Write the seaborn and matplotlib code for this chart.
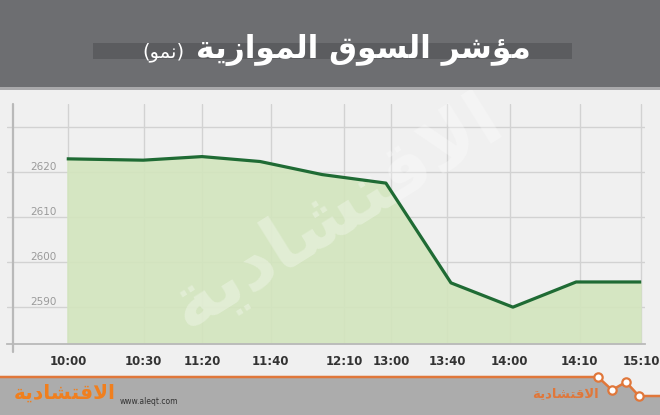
import matplotlib
matplotlib.use("Agg")
import matplotlib.pyplot as plt
import matplotlib.patches as mpatches
import matplotlib.transforms as mtransforms
import seaborn as sns
import pandas as pd

# ---- data ----
times = ["10:00", "10:30", "11:20", "11:40", "12:10", "13:00", "13:40", "14:00", "14:10", "15:10"]
# horizontal place of each time along the axis (percent of axis width)
tick_place = [8.7, 20.7, 29.9, 40.8, 52.4, 59.8, 68.7, 78.6, 89.7, 99.4]
point_place = [8.5, 20.6, 29.9, 39.1, 48.9, 59.0, 69.3, 79.1, 89.1, 99.4]
index_values = [2623.0, 2622.7, 2623.5, 2622.4, 2619.5, 2617.6, 2595.4, 2590.0, 2595.6, 2595.6]
y_ticks = [2590, 2600, 2610, 2620, 2630]
y_labels = ["2590", "2600", "2610", "2620", ""]

# ---- Arabic text (pre-shaped presentation forms, visual order) ----
def vis(s):
    return s[::-1]
w_moasher = vis("\uFEE3\uFE86\uFEB7\uFEAE")                 # مؤشر
w_souq = vis("\uFE8D\uFEDF\uFEB4\uFEEE\uFED5")              # السوق
w_mowazia = vis("\uFE8D\uFEDF\uFEE4\uFEEE\uFE8D\uFEAF\uFEF3\uFE94")  # الموازية
w_nomu = vis("\uFEE7\uFEE4\uFEEE")                          # نمو
w_eqt = vis("\uFE8D\uFEFB\uFED7\uFE98\uFEB8\uFE8E\uFEA9\uFEF3\uFE94")  # الاقتصادية
title_main = w_mowazia + " " + w_souq + " " + w_moasher
title_sub = "(" + w_nomu + ")"

df = pd.DataFrame({"x": point_place, "value": index_values})

sns.set_theme(style="white")
plt.rcParams["font.family"] = ["DejaVu Sans"]

W, H = 660, 415
fig = plt.figure(figsize=(W / 100, H / 100), dpi=100)
fig.patch.set_facecolor("#f0f0f0")

def fx(px):
    return px / W

def fy(py):
    return 1 - py / H

# header
fig.patches.append(mpatches.Rectangle((0, fy(90)), 1, fy(0) - fy(90), transform=fig.transFigure,
                                      facecolor="#a9a9ab", edgecolor="none", zorder=0))
fig.patches.append(mpatches.Rectangle((0, fy(87)), 1, fy(0) - fy(87), transform=fig.transFigure,
                                      facecolor="#6d6e71", edgecolor="none", zorder=0))
fig.patches.append(mpatches.Rectangle((fx(93), fy(59)), fx(572 - 93), fy(43) - fy(59),
                                      transform=fig.transFigure, facecolor="#5b5c5f",
                                      edgecolor="none", zorder=1))
fig.text(fx(531), fy(50), title_main, ha="right", va="center", color="white",
         fontsize=22.5, fontweight="bold", zorder=3)
fig.text(fx(184), fy(52), title_sub, ha="right", va="center", color="white",
         fontsize=14, zorder=3)

# footer
foot_x = [0, 598, 612, 626, 639, 660, 660, 0]
foot_y = [378, 378, 390, 382, 396, 396, 415, 415]
fig.patches.append(mpatches.Polygon([(fx(a), fy(b)) for a, b in zip(foot_x, foot_y)],
                                    closed=True, transform=fig.transFigure,
                                    facecolor="#acacac", edgecolor="none", zorder=0))
line_x = [0, 598, 612, 626, 639, 660]
line_y = [377, 377, 390, 382, 396, 396]
fig.add_artist(plt.Line2D([fx(a) for a in line_x], [fy(b) for b in line_y],
                          transform=fig.transFigure, color="#e0773a", lw=1.8, zorder=2))
for a, b in zip(line_x[1:5], line_y[1:5]):
    fig.add_artist(plt.Line2D([fx(a)], [fy(b)], transform=fig.transFigure, marker="o",
                              markersize=6, markerfacecolor="white", markeredgecolor="#e0773a",
                              markeredgewidth=1.6, zorder=3))
fig.text(fx(120), fy(401), "www.aleqt.com", ha="left", va="center", color="#333333",
         fontsize=5.5, zorder=3)
fig.text(fx(65), fy(393), w_eqt, ha="center", va="center", color="#f07f1e",
         fontsize=14.5, fontweight="bold", zorder=3)
fig.text(fx(565), fy(394), w_eqt, ha="center", va="center", color="#e0773a",
         fontsize=9.5, fontweight="bold", zorder=3)

# plot area
ax = fig.add_axes([fx(7), fy(344), fx(645 - 7), fy(104) - fy(344)])
ax.set_facecolor("none")
ax.set_xlim(-0.95, 100)
ax.set_ylim(2581.8, 2635.2)

# watermark
ax.text(51, 2611, w_eqt, rotation=32, ha="center", va="center", color="white",
        alpha=0.3, fontsize=54, fontweight="bold", zorder=2)

for p in tick_place:
    ax.axvline(p, color="#d2d2d2", lw=1.0, zorder=0)
ax.set_yticks(y_ticks)
ax.set_yticklabels(y_labels)
ax.grid(axis="y", color="#d2d2d2", lw=1.0)
ax.set_axisbelow(True)

ax.fill_between(df["x"], df["value"], 2581.8, color="#d3e5bd", alpha=0.9, zorder=1, lw=0)
sns.lineplot(data=df, x="x", y="value", ax=ax, color="#1f6b34", lw=2.3, zorder=4,
             solid_capstyle="butt")

ax.set_xticks(tick_place)
ax.set_xticklabels(times)
ax.set_xlabel("")
ax.set_ylabel("")
for s in ["top", "right", "left"]:
    ax.spines[s].set_visible(False)
ax.spines["bottom"].set_color("#b9b9b9")
ax.spines["bottom"].set_linewidth(1.3)

trans = mtransforms.blended_transform_factory(ax.transData, ax.transAxes)
ax.plot([0, 0], [-0.035, 1.0], transform=trans, color="#b9b9b9", lw=1.6, clip_on=False,
        zorder=5)

ax.tick_params(axis="x", length=0, pad=8, labelsize=8.5, labelcolor="#333333")
ax.tick_params(axis="y", length=0, pad=-17, labelsize=7.5, labelcolor="#9a9a9a")
for lab in ax.get_yticklabels():
    lab.set_horizontalalignment("left")
    lab.set_verticalalignment("bottom")
for lab in ax.get_xticklabels():
    lab.set_fontweight("semibold")

fig.savefig("out.png", dpi=100, facecolor=fig.get_facecolor())
